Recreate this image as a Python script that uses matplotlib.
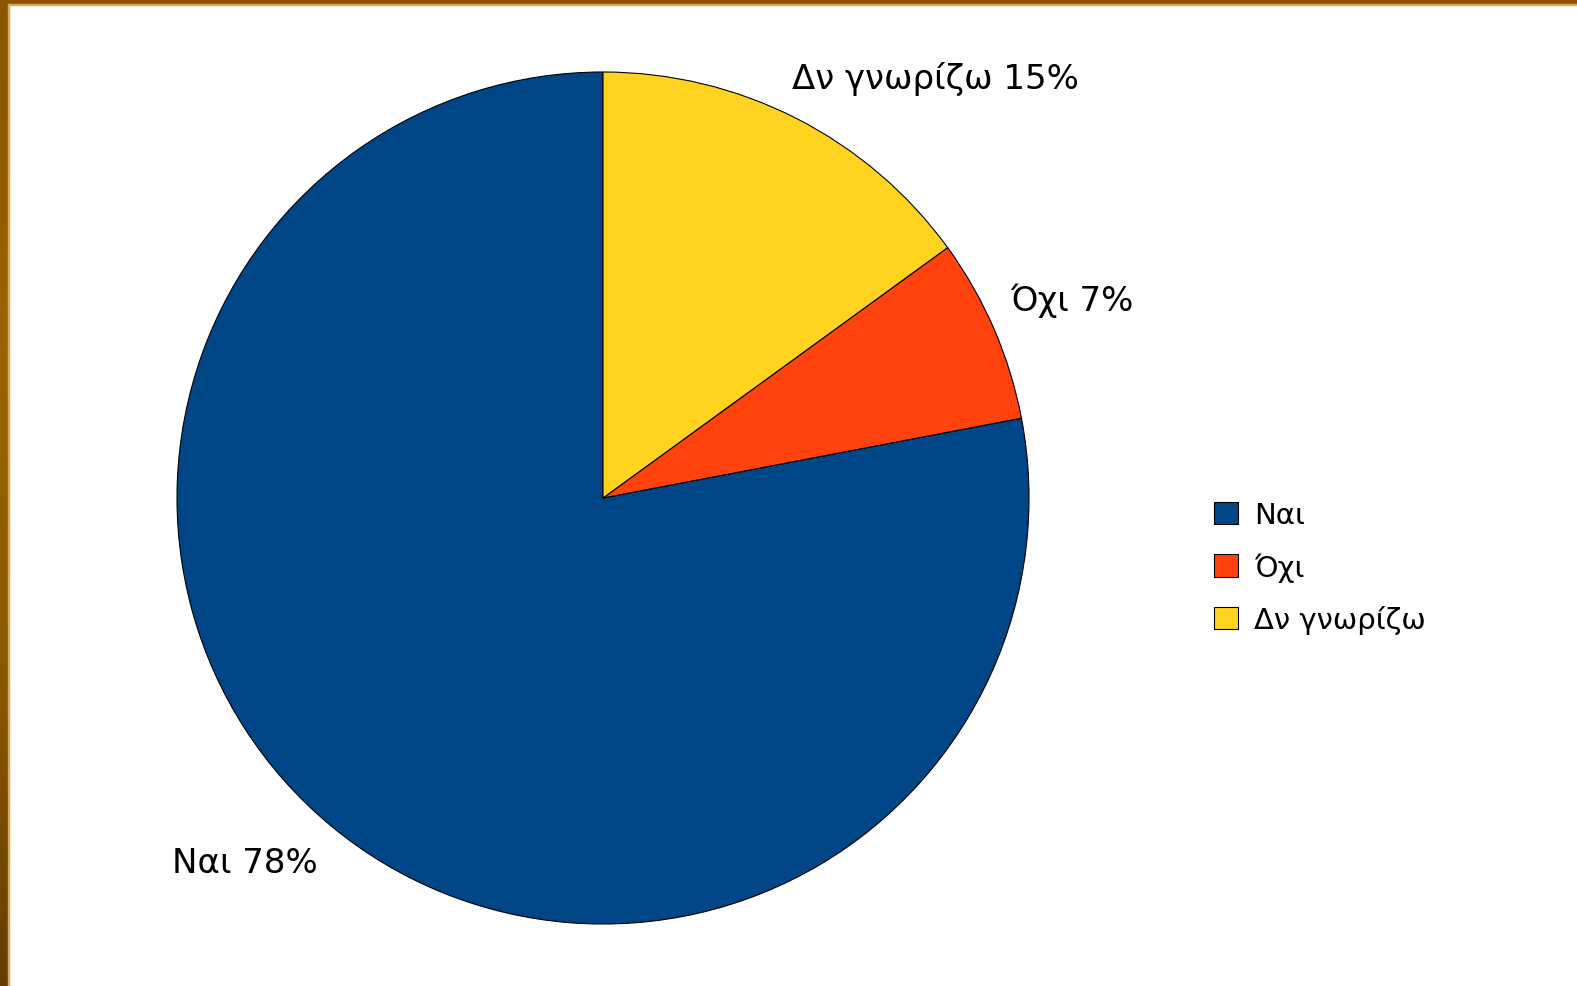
import numpy as np
import matplotlib
matplotlib.use("Agg")
import matplotlib.pyplot as plt
from matplotlib.patches import Patch, Rectangle
from matplotlib.colors import LinearSegmentedColormap

# survey answers
categories = ["Ναι", "Όχι", "Δν γνωρίζω"]
values = [78, 7, 15]
pie_labels = ["Ναι 78%", "Όχι 7%", "Δν γνωρίζω 15%"]
colors = ["#004586", "#ff420e", "#ffd320"]

plt.rcParams['font.family'] = ['DejaVu Sans']

fig = plt.figure(figsize=(15.77, 9.87), dpi=100)
fig.patch.set_facecolor("white")

# brown frame on left and top
frame = fig.add_axes([0, 0, 8 / 1577, 1])
grad = LinearSegmentedColormap.from_list("frame", ["#8a5400", "#9a6400", "#8c5a00", "#673c00"])
frame.imshow(np.linspace(0, 1, 256).reshape(-1, 1), aspect="auto", cmap=grad)
frame.axis("off")
fig.patches.append(Rectangle((0, 1 - 5 / 987), 1, 5 / 987, transform=fig.transFigure,
                             color="#8a5400", zorder=5))
fig.patches.append(Rectangle((8 / 1577, 0), 1.2 / 1577, 1 - 5 / 987, transform=fig.transFigure,
                             color="#d9a95a", zorder=5))
fig.patches.append(Rectangle((8 / 1577, 1 - 6.2 / 987), 1, 1.2 / 987, transform=fig.transFigure,
                             color="#d9a95a", zorder=5))

# pie, centre ~ (603, 499) px, radius ~ 426 px
cx, cy, r = 603, 499, 426
ax = fig.add_axes([(cx - r) / 1577, (987 - cy - r) / 987, 2 * r / 1577, 2 * r / 987])
wedges, _ = ax.pie(values, colors=colors, startangle=90, counterclock=True,
                   wedgeprops=dict(edgecolor="black", linewidth=0.8))
ax.set_xlim(-1, 1)
ax.set_ylim(-1, 1)
ax.set_aspect("equal")
ax.axis("off")

# label positions in pie units (radius = 1)
label_pos = [(-0.84, -0.855), (1.10, 0.465), (0.78, 0.985)]
for txt, (x, y) in zip(pie_labels, label_pos):
    ax.text(x, y, txt, ha="center", va="center", fontsize=24.5, color="black", clip_on=False)

handles = [Patch(facecolor=c, edgecolor="black", linewidth=0.8) for c in colors]
fig.legend(handles, categories, loc="upper left", bbox_to_anchor=(1214 / 1577, 1 - 502 / 987),
           frameon=False, fontsize=21, handlelength=0.82, handleheight=0.82,
           handletextpad=0.55, labelspacing=0.8, borderpad=0, borderaxespad=0)

fig.savefig("out.png", dpi=100, facecolor="white")
